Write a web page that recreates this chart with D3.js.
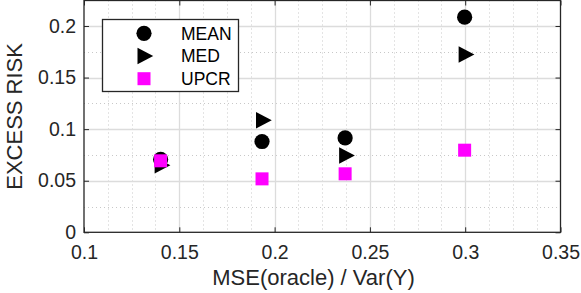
<!DOCTYPE html>
<html><head><meta charset="utf-8">
<script src="https://cdn.jsdelivr.net/npm/d3@7"></script>
<style>body{margin:0;background:#fff}svg{display:block}text{font-family:"Liberation Sans",Arial,sans-serif}</style>
</head><body><div id="chart"></div>
<script>
const xVals = [0.1402, 0.1934, 0.2370, 0.2997];
const meanVals = [0.0706, 0.0880, 0.0915, 0.2085];
const medVals = [0.0650, 0.1086, 0.0745, 0.1724];
const upcrVals = [0.0693, 0.0518, 0.0567, 0.0796];
const seriesNames = ["MEAN", "MED", "UPCR"];
const xTicks = [0.1, 0.15, 0.2, 0.25, 0.3, 0.35];
const yTicks = [0, 0.05, 0.1, 0.15, 0.2];
const xLabel = "MSE(oracle) / Var(Y)";
const yLabel = "EXCESS RISK";

const W = 581, H = 293;
const svg = d3.select("#chart").append("svg").attr("width", W).attr("height", H);
const L = 84, R = 560.5, T = 0.5, B = 232.3;
const x = d3.scaleLinear().domain([0.1, 0.35]).range([L, R]);
const y = d3.scaleLinear().domain([0, 0.2247]).range([B, T]);

// minor grid
const xMinor = d3.range(0.1, 0.35001, 0.0125).filter(v => !xTicks.some(t => Math.abs(t - v) < 1e-6));
const yMinor = d3.range(0.025, 0.2247, 0.05);
const g = svg.append("g");
g.selectAll(".xm").data(xMinor).join("line")
  .attr("x1", d => Math.round(x(d)) + 0.5).attr("x2", d => Math.round(x(d)) + 0.5)
  .attr("y1", T).attr("y2", B).attr("stroke", "#c8c8c8").attr("stroke-dasharray", "1,3");
g.selectAll(".ym").data(yMinor).join("line")
  .attr("y1", d => Math.round(y(d)) + 0.5).attr("y2", d => Math.round(y(d)) + 0.5)
  .attr("x1", L).attr("x2", R).attr("stroke", "#c8c8c8").attr("stroke-dasharray", "1,3");
// major grid
g.selectAll(".xg").data(xTicks.slice(1, -1)).join("line")
  .attr("x1", d => Math.round(x(d)) + 0.5).attr("x2", d => Math.round(x(d)) + 0.5)
  .attr("y1", T).attr("y2", B).attr("stroke", "#dcdcdc").attr("stroke-width", 1.3);
g.selectAll(".yg").data(yTicks.slice(1)).join("line")
  .attr("y1", d => Math.round(y(d)) + 0.5).attr("y2", d => Math.round(y(d)) + 0.5)
  .attr("x1", L).attr("x2", R).attr("stroke", "#dcdcdc").attr("stroke-width", 1.3);

// axes
const fmt = d => String(+d.toFixed(3));
const ax = svg.append("g").attr("transform", `translate(0,${B})`)
  .call(d3.axisBottom(x).tickValues(xTicks).tickFormat(fmt).tickSizeInner(-5).tickSizeOuter(0).tickPadding(12.5));
const ay = svg.append("g").attr("transform", `translate(${L},0)`)
  .call(d3.axisLeft(y).tickValues(yTicks).tickFormat(fmt).tickSizeInner(-5).tickSizeOuter(0).tickPadding(8));
const axTop = svg.append("g").attr("transform", `translate(0,${T})`)
  .call(d3.axisTop(x).tickValues(xTicks).tickFormat("").tickSizeInner(-5).tickSizeOuter(0));
const ayR = svg.append("g").attr("transform", `translate(${R},0)`)
  .call(d3.axisRight(y).tickValues(yTicks).tickFormat("").tickSizeInner(-5).tickSizeOuter(0));
[ax, ay, axTop, ayR].forEach(a => {
  a.select(".domain").remove();
  a.selectAll("line").attr("stroke", "#262626");
  a.selectAll("text").attr("fill", "#262626").style("font-size", "19.5px").style("font-family", '"Liberation Sans",Arial,sans-serif');
});
svg.append("rect").attr("x", L).attr("y", T).attr("width", R - L).attr("height", B - T)
  .attr("fill", "none").attr("stroke", "#262626").attr("stroke-width", 1.3);

// labels
svg.append("text").attr("x", 313.5).attr("y", 285).attr("text-anchor", "middle")
  .attr("fill", "#262626").style("font-size", "22px").text(xLabel);
svg.append("text").attr("transform", `translate(22,${(B + T) / 2}) rotate(-90)`).attr("text-anchor", "middle")
  .attr("fill", "#262626").style("font-size", "22px").text(yLabel);

// markers
const tri = (cx, cy, s) => `M${cx - s * 0.5},${cy - s * 0.55}L${cx + s * 0.55},${cy}L${cx - s * 0.5},${cy + s * 0.55}Z`;
const pts = svg.append("g");
pts.selectAll(".mean").data(xVals.map((v, i) => [v, meanVals[i]])).join("circle")
  .attr("cx", d => x(d[0])).attr("cy", d => y(d[1])).attr("r", 7.6).attr("fill", "#000");
pts.selectAll(".med").data(xVals.map((v, i) => [v, medVals[i]])).join("path")
  .attr("d", d => tri(x(d[0]) + 1.5, y(d[1]), 15)).attr("fill", "#000");
pts.selectAll(".upcr").data(xVals.map((v, i) => [v, upcrVals[i]])).join("rect")
  .attr("x", d => x(d[0]) - 6.5).attr("y", d => y(d[1]) - 6.5).attr("width", 13).attr("height", 13).attr("fill", "#ff00ff");

// legend
const lg = svg.append("g");
lg.append("rect").attr("x", 102.5).attr("y", 19.5).attr("width", 136).attr("height", 72)
  .attr("fill", "#fff").attr("stroke", "#262626").attr("stroke-width", 1.3);
const rows = [33.3, 56, 78.7];
lg.append("circle").attr("cx", 144).attr("cy", rows[0]).attr("r", 7.6).attr("fill", "#000");
lg.append("path").attr("d", tri(145, rows[1], 15)).attr("fill", "#000");
lg.append("rect").attr("x", 137.5).attr("y", rows[2] - 6.5).attr("width", 13).attr("height", 13).attr("fill", "#ff00ff");
lg.selectAll(".lt").data(seriesNames).join("text")
  .attr("x", 181).attr("y", (d, i) => rows[i] + 6.3).attr("fill", "#000")
  .style("font-size", "17.5px").text(d => d);
</script></body></html>
